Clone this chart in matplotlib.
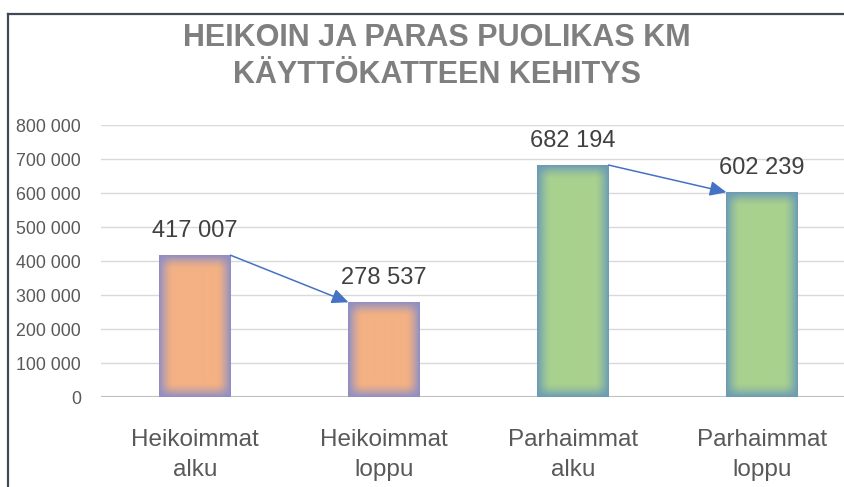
import numpy as np
import matplotlib
matplotlib.use("Agg")
import matplotlib.pyplot as plt
from matplotlib.lines import Line2D

categories = ["Heikoimmat\nalku", "Heikoimmat\nloppu", "Parhaimmat\nalku", "Parhaimmat\nloppu"]
values = [417007, 278537, 682194, 602239]
value_labels = ["417 007", "278 537", "682 194", "602 239"]
yticks = [0, 100000, 200000, 300000, 400000, 500000, 600000, 700000, 800000]
ytick_labels = ["0", "100 000", "200 000", "300 000", "400 000", "500 000", "600 000", "700 000", "800 000"]
title_lines = ["HEIKOIN JA PARAS PUOLIKAS KM", "KÄYTTÖKATTEEN KEHITYS"]

center_cols = ["#F4B183", "#F4B183", "#A9D18E", "#A9D18E"]
edge_cols = ["#8C8EC6", "#8C8EC6", "#6A9AB6", "#6A9AB6"]

plt.rcParams['font.family'] = ['Liberation Sans', 'DejaVu Sans']

W, H = 844, 487
fig = plt.figure(figsize=(W / 100, H / 100), dpi=100)
fig.patch.set_facecolor("white")

ax = fig.add_axes([100.5 / W, 90 / H, 756 / W, 272 / H])
ax.set_xlim(-0.5, 3.5)
ax.set_ylim(0, 800000)
for s in ax.spines.values():
    s.set_visible(False)
ax.set_yticks(yticks)
ax.set_yticklabels(ytick_labels, fontsize=12.8, color="#595959")
ax.set_xticks(range(len(categories)))
ax.set_xticklabels(categories, fontsize=17.5, color="#595959", linespacing=1.5)
ax.tick_params(axis="y", length=0, pad=14)
ax.tick_params(axis="x", length=0, pad=23)
ax.grid(axis="y", color="#D9D9D9", lw=1.0, zorder=0)
ax.set_axisbelow(True)
ax.axhline(0, color="#BFBFBF", lw=1.5, zorder=1)

bw = 0.376
bars = ax.bar(range(len(values)), values, width=bw, color="none", zorder=2)

def hex2rgb(h):
    h = h.lstrip("#")
    return np.array([int(h[i:i + 2], 16) / 255 for i in (0, 2, 4)])

for rect, c, e in zip(bars, center_cols, edge_cols):
    x0, y0 = rect.get_x(), rect.get_y()
    w, h = rect.get_width(), rect.get_height()
    p0 = ax.transData.transform((x0, y0))
    p1 = ax.transData.transform((x0 + w, y0 + h))
    nx = max(int(round(abs(p1[0] - p0[0]))), 2)
    ny = max(int(round(abs(p1[1] - p0[1]))), 2)
    xs = np.arange(nx) + 0.5
    ys = np.arange(ny) + 0.5
    dx = np.minimum(xs, nx - xs)
    dy = np.minimum(ys, ny - ys)
    tx = np.clip(1 - dx / 14.0, 0, 1) ** 1.5
    ty = np.clip(1 - dy / 14.0, 0, 1) ** 1.5
    t = 1 - (1 - tx[None, :]) * (1 - ty[:, None])
    cc, ee = hex2rgb(c), hex2rgb(e)
    img = cc[None, None, :] + (ee - cc)[None, None, :] * t[:, :, None]
    ax.imshow(img, extent=(x0, x0 + w, y0, y0 + h), aspect="auto",
              origin="lower", zorder=2, interpolation="bilinear")

ax.set_xlim(-0.5, 3.5)
ax.set_ylim(0, 800000)

for i, (v, lab) in enumerate(zip(values, value_labels)):
    ax.annotate(lab, (i, v), xytext=(0, 13), textcoords="offset points",
                ha="center", va="baseline", fontsize=17, color="#404040", zorder=4)

for a, b in [(0, 1), (2, 3)]:
    ax.annotate("", xy=(b - bw / 2, values[b]), xytext=(a + bw / 2, values[a]),
                arrowprops=dict(arrowstyle="-|>,head_length=1.0,head_width=0.45",
                                color="#4472C4", lw=1.1, shrinkA=0, shrinkB=0),
                zorder=5)

fig.text(437 / W, 1 - 38 / H, title_lines[0], ha="center", va="center",
         fontsize=22, fontweight="bold", color="#7F7F7F")
fig.text(437 / W, 1 - 75 / H, title_lines[1], ha="center", va="center",
         fontsize=22, fontweight="bold", color="#7F7F7F")

fig.add_artist(Line2D([8 / W, 8 / W], [0, 1 - 14 / H], transform=fig.transFigure,
                      color="#3F4A54", lw=1.6))
fig.add_artist(Line2D([8 / W, 1], [1 - 14 / H, 1 - 14 / H], transform=fig.transFigure,
                      color="#3F4A54", lw=1.6))

fig.savefig("out.png", dpi=100, facecolor="white")
